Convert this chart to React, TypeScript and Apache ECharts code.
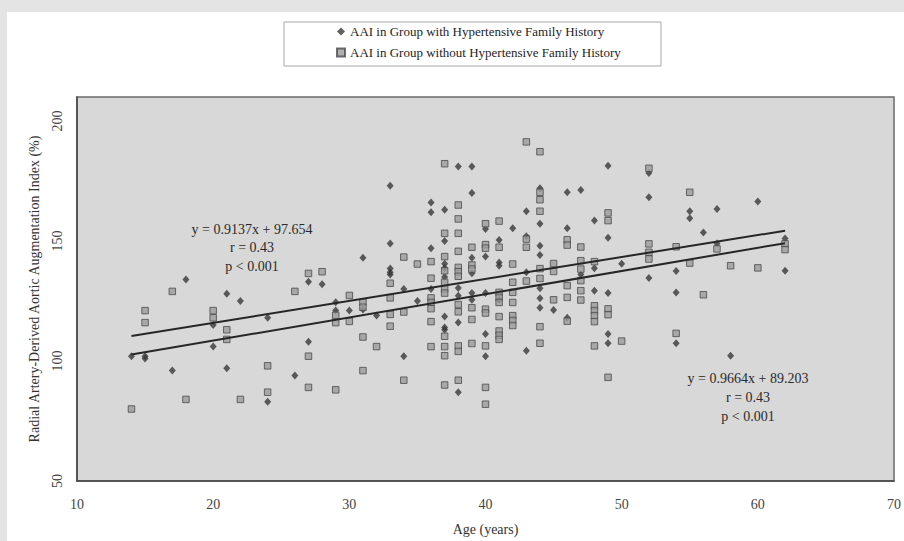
import React, { useEffect, useRef } from "react";
import * as echarts from "echarts";

// Ages (years) and AAI (%) for the group WITH hypertensive family history (diamonds)
const withHistory: [number, number][] = [
  [14, 102], [15, 102], [15, 101], [17, 96], [18, 134], [20, 115], [20, 106],
  [21, 128], [21, 97], [22, 125], [24, 118], [24, 83], [26, 94], [27, 133], [27, 108],
  [28, 132], [29, 124.5], [29, 121], [30, 121], [31, 143], [31, 121.5], [32, 119],
  [33, 173], [33, 149], [33, 138.5], [33, 137], [33, 136], [34, 130], [34, 102], [35, 125],
  [36, 166], [36, 162], [36, 147], [36, 130],
  [37, 163], [37, 150], [37, 140.5], [37, 138.8], [37, 135], [37, 118.5], [37, 114], [37, 113],
  [38, 181], [38, 130.4], [38, 127.2], [38, 116], [38, 87],
  [39, 181], [39, 170], [39, 143], [39, 136.6], [39, 128.3], [39, 125.5],
  [40, 155], [40, 143.5], [40, 128.3], [40, 111.3], [40, 102],
  [41, 150.4], [41, 141], [41, 139.7], [41, 125.5], [42, 155.3],
  [43, 162.4], [43, 152], [43, 137], [43, 104.3],
  [44, 172], [44, 157.2], [44, 148], [44, 144.2], [44, 130.3], [44, 126.1], [44, 122.2],
  [45, 121.3], [46, 170.3], [46, 155.3], [46, 118], [47, 171.3], [47, 136],
  [48, 158.5], [48, 138.6], [48, 129.3],
  [49, 181.4], [49, 151.4], [49, 128.3], [49, 111.3], [49, 107.4], [50, 140.5],
  [52, 178.3], [52, 168.2], [52, 134.6], [54, 137.5], [54, 128.5], [54, 107.4],
  [55, 162.4], [55, 159.5], [56, 153.5], [57, 163.3], [57, 149], [58, 102.2],
  [60, 166.5], [62, 151], [62, 137.6],
];

// Ages (years) and AAI (%) for the group WITHOUT hypertensive family history (squares)
const withoutHistory: [number, number][] = [
  [14, 80], [15, 121], [15, 116], [17, 129], [18, 84], [20, 121], [20, 118],
  [21, 113], [21, 109], [22, 84], [24, 98], [24, 87], [26, 129],
  [27, 136.5], [27, 102], [27, 89], [28, 137.2], [29, 119], [29, 116], [29, 88],
  [30, 127.3], [30, 116.5], [31, 124.5], [31, 122.4], [31, 110], [31, 96], [32, 106],
  [33, 132.4], [33, 126.3], [33, 119.4], [33, 114.5], [34, 143.3], [34, 120.4], [34, 92],
  [35, 140.4],
  [36, 141.4], [36, 134.5], [36, 126.3], [36, 124.4], [36, 121.8], [36, 116.4], [36, 106],
  [37, 182.2], [37, 153.2], [37, 143.5], [37, 137.6], [37, 132.8], [37, 130], [37, 128.3],
  [37, 110.3], [37, 106], [37, 102.2], [37, 90],
  [38, 165], [38, 159.2], [38, 153.2], [38, 145.7], [38, 139], [38, 137.2], [38, 135.3],
  [38, 123.5], [38, 120.5], [38, 106.3], [38, 104], [38, 92],
  [39, 147.4], [39, 140], [39, 138.3], [39, 122.2], [39, 117.3], [39, 107.3],
  [40, 157.2], [40, 148.5], [40, 147], [40, 121.6], [40, 120], [40, 106.3], [40, 89], [40, 82],
  [41, 158.3], [41, 147.4], [41, 128.6], [41, 126.5], [41, 124.4], [41, 118.5], [41, 112.5],
  [41, 110.7], [41, 109],
  [42, 140.4], [42, 132.8], [42, 128.6], [42, 124.4], [42, 118.9], [42, 116.9], [42, 114.8],
  [43, 191.3], [43, 150.8], [43, 147.4], [43, 133.3],
  [44, 187.2], [44, 170.3], [44, 167.2], [44, 162.4], [44, 138.5], [44, 134.4], [44, 114.3], [44, 107.4],
  [45, 140.6], [45, 137.3], [45, 125.5],
  [46, 150.5], [46, 148.3], [46, 131.4], [46, 126.5], [46, 116.6],
  [47, 147.5], [47, 141.8], [47, 138.3], [47, 133.5], [47, 129.3], [47, 125.4],
  [48, 141.4], [48, 123], [48, 121], [48, 118.9], [48, 116.4], [48, 106.3],
  [49, 161.7], [49, 158.5], [49, 121.7], [49, 119.3], [49, 93.2], [50, 108.3],
  [52, 180.3], [52, 148.8], [52, 145.3], [52, 142.5], [54, 147.6], [54, 111.5],
  [55, 170.3], [55, 140.8], [56, 127.6], [57, 146.7], [58, 139.7], [60, 138.8],
  [62, 148.8], [62, 146.4],
];

// Regression line end points
const trendWith: [number, number][] = [[14, 110.4], [62, 154.3]];
const trendWithout: [number, number][] = [[14, 102.7], [62, 149.1]];

const seriesNames = [
  "AAI in Group with Hypertensive Family History",
  "AAI in Group without Hypertensive Family History",
];
const annotationWith = ["y = 0.9137x + 97.654", "r = 0.43", "p < 0.001"];
const annotationWithout = ["y = 0.9664x + 89.203", "r = 0.43", "p < 0.001"];

const FONT = "'Liberation Serif', 'Times New Roman', serif";

export default function App() {
  const ref = useRef<HTMLDivElement>(null);
  useEffect(() => {
    document.body.style.margin = "0";
    const chart = echarts.init(ref.current!, null, { renderer: "svg" });
    const textEl = (txt: string, x: number, y: number) => ({
      type: "text",
      x,
      y,
      style: {
        text: txt,
        fill: "#2a2a2a",
        font: `14px ${FONT}`,
        textAlign: "center",
        textVerticalAlign: "middle",
      },
      z: 50,
    });
    chart.setOption({
      animation: false,
      backgroundColor: "#e4e4e4",
      textStyle: { fontFamily: FONT },
      graphic: [
        {
          type: "rect",
          z: -100,
          shape: { x: 7, y: 12, width: 897, height: 529 },
          style: { fill: "#ffffff" },
        },
        {
          type: "rect",
          z: -50,
          shape: { x: 284, y: 22, width: 377, height: 44 },
          style: { fill: "#ffffff", stroke: "#a8a8a8", lineWidth: 1 },
        },
        ...annotationWith.map((t, i) => textEl(t, 252, 229 + i * 18.5)),
        ...annotationWithout.map((t, i) => textEl(t, 748, 378 + i * 19)),
      ],
      legend: {
        data: seriesNames,
        orient: "vertical",
        left: 336,
        top: 25,
        itemGap: 8,
        itemWidth: 8,
        itemHeight: 8,
        padding: 0,
        textStyle: { fontSize: 13, color: "#1e1e1e", fontFamily: FONT },
      },
      grid: {
        left: 77,
        top: 97,
        right: 5,
        bottom: 59,
        show: true,
        backgroundColor: "#d8d8d8",
        borderColor: "#6a6a6a",
        borderWidth: 1.5,
      },
      xAxis: {
        type: "value",
        min: 10,
        max: 70,
        interval: 10,
        name: "Age (years)",
        nameLocation: "middle",
        nameGap: 41,
        nameTextStyle: { fontSize: 14, color: "#333", fontFamily: FONT },
        axisLine: { show: true, lineStyle: { color: "#444", width: 1.5 } },
        axisTick: { show: false },
        splitLine: { show: false },
        axisLabel: { margin: 16, fontSize: 14, color: "#444", fontFamily: FONT },
      },
      yAxis: {
        type: "value",
        min: 50,
        max: 210,
        interval: 50,
        name: "Radial Artery-Derived Aortic Augmentation Index (%)",
        nameLocation: "middle",
        nameGap: 36,
        nameTextStyle: { fontSize: 14, color: "#333", fontFamily: FONT },
        axisLine: { show: true, lineStyle: { color: "#444", width: 1.5 } },
        axisTick: { show: false },
        splitLine: { show: false },
        axisLabel: {
          rotate: 90,
          margin: 13,
          fontSize: 14,
          color: "#444",
          fontFamily: FONT,
          formatter: (v: number) => (v % 50 === 0 ? String(v) : ""),
        },
      },
      series: [
        {
          name: seriesNames[0],
          type: "scatter",
          symbol: "diamond",
          symbolSize: [7, 8],
          data: withHistory,
          itemStyle: { color: "#383838" },
          z: 2,
        },
        {
          name: seriesNames[1],
          type: "scatter",
          symbol: "rect",
          symbolSize: 6.5,
          data: withoutHistory,
          itemStyle: { color: "#9c9c9c", borderColor: "#4a4a4a", borderWidth: 1 },
          z: 3,
        },
        {
          type: "line",
          data: trendWith,
          symbol: "none",
          lineStyle: { color: "#262626", width: 2 },
          z: 4,
        },
        {
          type: "line",
          data: trendWithout,
          symbol: "none",
          lineStyle: { color: "#262626", width: 2 },
          z: 4,
        },
      ],
    });
    return () => chart.dispose();
  }, []);
  return (
    <div style={{ position: "absolute", left: 0, top: 0, width: 904, height: 541 }}>
      <div ref={ref} style={{ width: 904, height: 541 }} />
    </div>
  );
}
